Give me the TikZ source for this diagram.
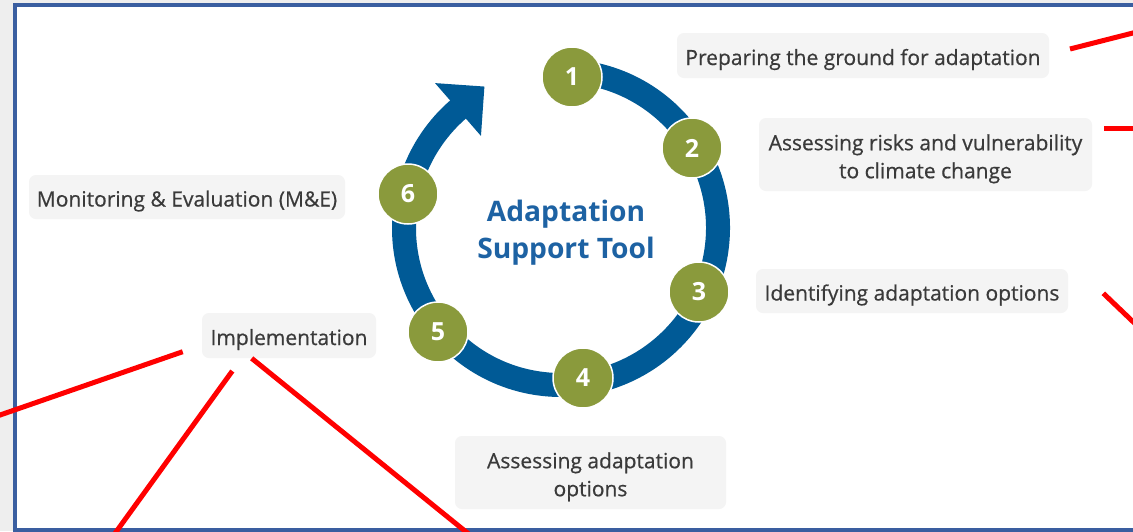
\documentclass[tikz,border=0pt]{standalone}
\usepackage{fontspec}
\setmainfont{Open Sans}
\newfontfamily\lblfont[FakeBold=0.6]{Open Sans}
\definecolor{ringblue}{HTML}{005A96}
\definecolor{titleblue}{HTML}{1D62A3}
\definecolor{olive}{HTML}{8A9A3C}
\definecolor{boxgray}{HTML}{F4F4F4}
\definecolor{txtgray}{HTML}{3A3A3A}
\definecolor{frameblue}{HTML}{3A5EA0}
\definecolor{bggray}{HTML}{EEEEEE}
\begin{document}
\begin{tikzpicture}[x=1pt,y=-1pt,
  lbl/.style={fill=boxgray, rounded corners=7pt, text=txtgray,
    font=\lblfont\fontsize{21}{28}\selectfont, align=center, inner sep=0pt,
    text height=19pt, text depth=0pt},
  lbltwo/.style={lbl, text height=47.5pt, text depth=0pt},
  num/.style={circle, fill=olive, draw=white, line width=1.5pt,
    minimum size=60pt, inner sep=0pt, text=white,
    font=\fontsize{25}{25}\selectfont\bfseries},
  redline/.style={draw=red, line width=5pt},
  ring/.style={draw=ringblue, line width=24pt},
]
\useasboundingbox (0,0) rectangle (1133,531);
\clip (0,0) rectangle (1133,531);
\fill[bggray] (0,0) rectangle (1133,531);
\fill[white] (14.7,5.3) rectangle (1145,529.5);
\draw[frameblue, line width=4pt] (14.7,5.3) rectangle (1145,529.5);

% ring with arrow
\coordinate (c) at (561,228);
\draw[ring] (c) ++(-85:157) arc[start angle=-85, end angle=229.5, radius=157];
\path (c) ++(-131:157) coordinate (ab);
\fill[ringblue] ([shift={(49:35)}]ab) -- ([shift={(-41:35)}]ab) -- ([shift={(-131:35)}]ab) -- cycle;

% step circles
\node[num] (n1) at (572,77) {1};
\node[num] (n2) at (692,148) {2};
\node[num] (n3) at (699,292) {3};
\node[num] (n4) at (583,378) {4};
\node[num] (n5) at (438,332) {5};
\node[num] (n6) at (408,194) {6};

% title
\node[text=titleblue, font=\fontsize{28.2}{37}\selectfont\bfseries, align=center] (title) at (566,232.5) {Adaptation\\Support Tool};

% labels
\node[lbl, minimum width=372pt, minimum height=45pt] (prep) at (863,55.5) {Preparing the ground for adaptation};
\node[lbltwo, minimum width=333pt, minimum height=73pt] (risk) at (925.5,154.5) {Assessing risks and vulnerability\\to climate change};
\node[lbl, minimum width=312pt, minimum height=44pt] (ident) at (912,291) {Identifying adaptation options};
\node[lbltwo, minimum width=271pt, minimum height=73pt] (assess) at (590.5,472.5) {Assessing adaptation\\options};
\node[lbl, minimum width=174pt, minimum height=45pt] (impl) at (289,335.5) {Implementation};
\node[lbl, minimum width=316pt, minimum height=44pt] (me) at (187,197) {Monitoring \& Evaluation (M\&E)};

% red connectors
\coordinate (r1a) at (1070,49);   \coordinate (r1b) at (1140,31.2);
\coordinate (r2a) at (1104,128);  \coordinate (r2b) at (1140,128);
\coordinate (r3a) at (1103.3,293.3); \coordinate (r3b) at (1140,328.4);
\coordinate (i1a) at (182.7,351.7); \coordinate (i1b) at (-10,418.5);
\coordinate (i2a) at (232.3,371);   \coordinate (i2b) at (110.2,540);
\coordinate (i3a) at (251.7,358.3); \coordinate (i3b) at (476.1,540);
\draw[redline] (r1a) -- (r1b);
\draw[redline] (r2a) -- (r2b);
\draw[redline] (r3a) -- (r3b);
\draw[redline] (i1a) -- (i1b);
\draw[redline] (i2a) -- (i2b);
\draw[redline] (i3a) -- (i3b);
\end{tikzpicture}
\end{document}
